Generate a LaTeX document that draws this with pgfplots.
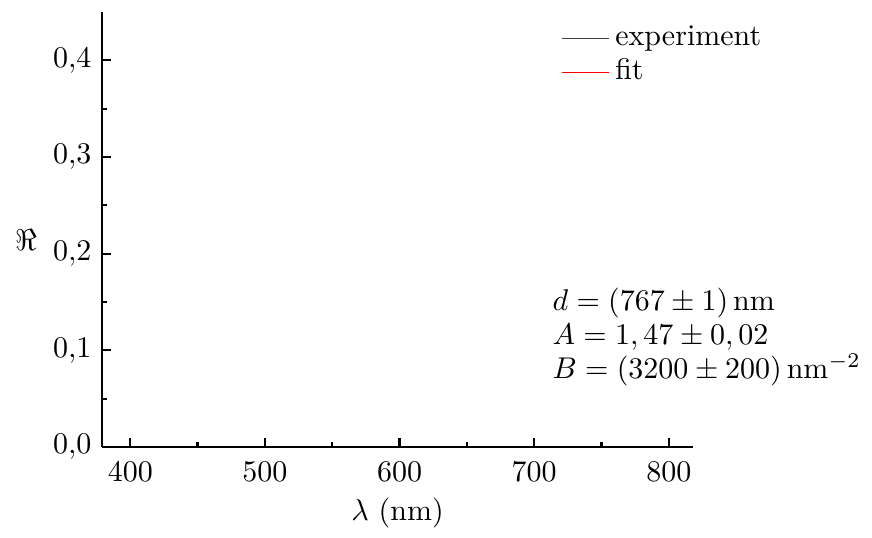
\documentclass[border=0pt]{standalone}
\usepackage{pgfplots}
\pgfplotsset{compat=1.18}
\begin{document}
\begin{tikzpicture}
\begin{axis}[
  name=ax,
  scale only axis,
  width=197pt, height=145pt,
  xmin=379, xmax=818, ymin=0, ymax=0.45,
  clip=false,
  axis x line*=bottom, axis y line*=left,
  axis line style={-, line width=0.75pt},
  tick style={line width=0.75pt, black},
  tick align=inside,
  major tick length=3pt, minor tick length=1.8pt,
  xtick={400,500,600,700,800}, minor x tick num=1,
  ytick={0,0.1,0.2,0.3,0.4}, minor y tick num=1,
  y tick label style={/pgf/number format/fixed, /pgf/number format/fixed zerofill,
    /pgf/number format/precision=1, /pgf/number format/use comma},
  x tick label style={/pgf/number format/1000 sep={}, yshift=-1.5pt},
  xlabel={$\lambda$\ $(\mathrm{nm})$},
  ylabel={$\Re$},
  every axis x label/.style={at={(axis description cs:0.5,0)}, anchor=base, yshift=-24.5pt},
  every axis y label/.style={at={(axis description cs:-0.128,0.475)}, anchor=center},
  legend style={at={(axis description cs:0.7766,0.9736)}, anchor=north west,
    draw=none, fill=none, inner sep=0pt, outer sep=0pt, row sep=1.3pt, column sep=2pt,
    nodes={inner sep=0pt, text height=7.5pt, text depth=2.5pt}},
  legend cell align=left,
  legend image code/.code={\draw[#1] (0pt,0pt) -- (15.7pt,0pt);},
]
\addlegendimage{color=black!75, line width=0.4pt}
\addlegendentry{experiment}
\addlegendimage{color=red, line width=0.4pt}
\addlegendentry{fit}
\node[anchor=north west, inner sep=0pt, align=left, font=\fontsize{10}{11.3}\selectfont]
  at (axis description cs:0.7614,0.3667)
  {$d = (767 \pm 1)\,\mathrm{nm}$\\ $A = 1,47 \pm 0,02$\\ $B = (3200 \pm 200)\,\mathrm{nm}^{-2}$};
\end{axis}
\path ([shift={(-34pt,-27pt)}]ax.south west) rectangle ([shift={(256.67pt,149pt)}]ax.south west);
\end{tikzpicture}
\end{document}
